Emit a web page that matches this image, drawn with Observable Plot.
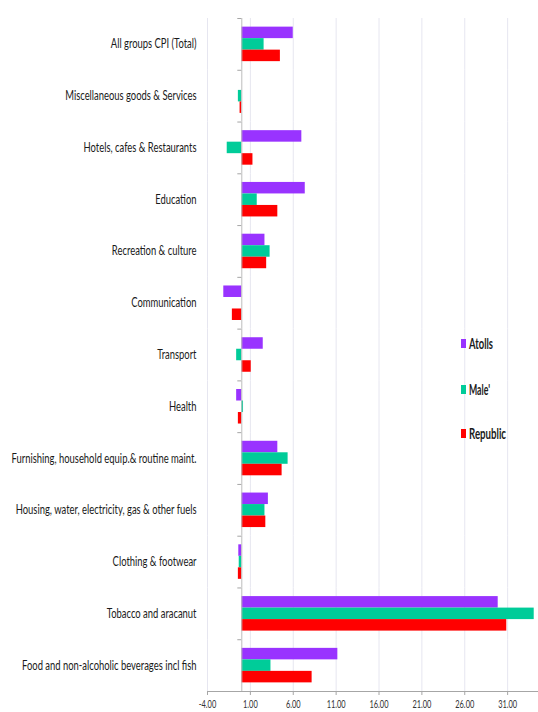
<!DOCTYPE html>
<html><head><meta charset="utf-8">
<script src="https://cdn.jsdelivr.net/npm/d3@7"></script>
<script src="https://cdn.jsdelivr.net/npm/@observablehq/plot@0.6"></script>
<style>
html,body{margin:0;padding:0;background:#fff;}
#wrap{position:relative;width:538px;height:712px;overflow:hidden;}
.legend{position:absolute;left:461px;font-family:Lato,"Open Sans",sans-serif;font-weight:bold;font-size:15px;color:#1a1a1a;white-space:nowrap;line-height:16px;display:flex;align-items:center;}
.sw{display:inline-block;width:5px;height:9px;margin-right:3px;flex:none;}
.lt{display:inline-block;transform-origin:left center;}
</style></head><body><div id="wrap"></div>
<script>
const categories = [
  "All groups CPI (Total)",
  "Miscellaneous goods & Services",
  "Hotels, cafes & Restaurants",
  "Education",
  "Recreation & culture",
  "Communication",
  "Transport",
  "Health",
  "Furnishing, household equip.& routine maint.",
  "Housing, water, electricity, gas & other fuels",
  "Clothing & footwear",
  "Tobacco and aracanut",
  "Food and non-alcoholic beverages incl fish"
];
const series = ["Atolls", "Male'", "Republic"];
const atolls   = [6.0,  0.0,  7.0, 7.4, 2.7, -2.1,  2.5, -0.6, 4.2, 3.1, -0.35, 29.9, 11.2];
const male     = [2.6, -0.4, -1.7, 1.8, 3.3,  0.0, -0.6,  0.2, 5.4, 2.7, -0.3, 34.1,  3.4];
const republic = [4.5, -0.2,  1.3, 4.2, 2.9, -1.1,  1.1, -0.4, 4.7, 2.8, -0.4, 30.9,  8.2];
const xTicks = [-4, 1, 6, 11, 16, 21, 26, 31];
const colors = ["#9933ff", "#00cc99", "#ff0000"];

const seriesValues = [atolls, male, republic];
const data = categories.flatMap((c, i) => series.map((s, j) => ({category: c, series: s, value: seriesValues[j][i]})));

const font = 'Lato,"Open Sans",sans-serif';
const fmt = d => d.toFixed(2);

const chart = Plot.plot({
  width: 538,
  height: 712,
  marginLeft: 207,
  marginRight: 0,
  marginTop: 18,
  marginBottom: 21,
  style: {fontFamily: font, fontSize: "12.5px", color: "#1a1a1a", background: "#fff", overflow: "visible"},
  x: {domain: [-4, 34.6], axis: null},
  y: {domain: series, paddingInner: 0, paddingOuter: 0.75, round: false, axis: null},
  fy: {domain: categories, padding: 0, round: false, label: null, axis: "left", tickSize: 0, tickPadding: 11},
  color: {domain: series, range: colors},
  marks: [
    Plot.ruleX(xTicks, {stroke: "#e6e6f0", strokeOpacity: 1}),
    Plot.barX(data, {x: "value", y: "series", fy: "category", fill: "series"}),
    Plot.ruleX([0], {stroke: "#bdbdbd", strokeOpacity: 1}),
    Plot.axisX(xTicks, {tickFormat: fmt, tickSize: 4, tickPadding: 4, stroke: "#a6a6a6", fontSize: 12, fill: "#333", label: null})
  ]
});

const wrap = document.getElementById("wrap");
wrap.appendChild(chart);

// Condense text horizontally (reference uses a narrow face)
function condense(sel, ratio) {
  sel.each(function() {
    const w = this.getComputedTextLength();
    this.setAttribute("textLength", (w * ratio).toFixed(2));
    this.setAttribute("lengthAdjust", "spacingAndGlyphs");
  });
}
const svg = d3.select(chart);
const catTexts = svg.selectAll("text").filter(function() { return categories.includes(this.textContent); });
let ref = null;
catTexts.each(function() { if (this.textContent === categories[8]) ref = this.getComputedTextLength(); });
condense(catTexts, ref ? 185 / ref : 0.78);
const tickTexts = svg.selectAll("text").filter(function() { return xTicks.map(fmt).includes(this.textContent); });
let ref2 = null;
tickTexts.each(function() { if (this.textContent === "31.00") ref2 = this.getComputedTextLength(); });
condense(tickTexts, ref2 ? 19 / ref2 : 0.7);

// Axis line and category boundary ticks, positioned through Plot's own scales
const sx = chart.scale("x");
const sfy = chart.scale("fy");
const x0 = sx.apply(0);
const xMin = sx.apply(sx.domain[0]);
const xMax = sx.apply(sx.domain[1]);
const bw = sfy.bandwidth;
const bounds = categories.map(c => sfy.apply(c)).concat([sfy.apply(categories[categories.length - 1]) + bw]);
const g = svg.append("g").attr("stroke", "#a6a6a6");
g.selectAll("line.b").data(bounds.slice(0, -1)).join("line")
  .attr("x1", x0 - 4).attr("x2", x0).attr("y1", d => d + 0.5).attr("y2", d => d + 0.5);
g.append("line").attr("x1", xMin).attr("x2", xMax)
  .attr("y1", bounds[bounds.length - 1] + 0.5).attr("y2", bounds[bounds.length - 1] + 0.5);

// Legend
const legendTops = [335, 381, 425];
const legendWidths = [24, 21, 37];
series.forEach((s, i) => {
  const d = document.createElement("div");
  d.className = "legend";
  d.style.top = legendTops[i] + "px";
  d.innerHTML = `<span class="sw" style="background:${colors[i]}"></span><span class="lt">${s}</span>`;
  wrap.appendChild(d);
  const t = d.querySelector(".lt");
  const w = t.getBoundingClientRect().width;
  t.style.transform = `scaleX(${legendWidths[i] / w})`;
});
</script>
</body></html>
